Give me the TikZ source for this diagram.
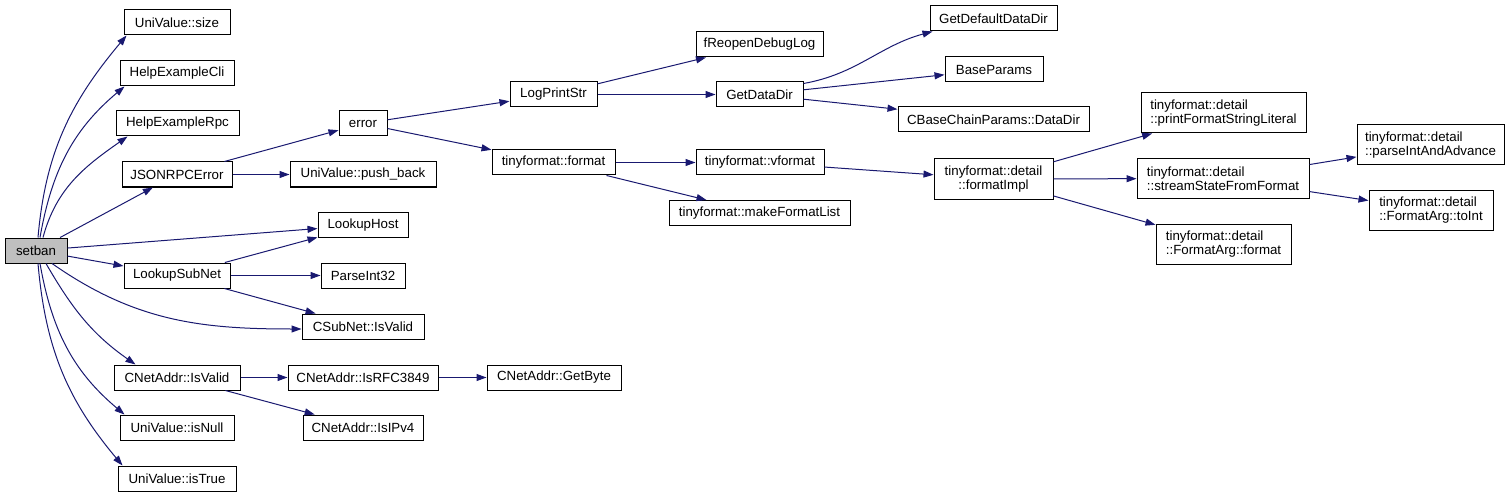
\documentclass[tikz,border=0pt]{standalone}
\usepackage{fontspec}
\setmainfont{Liberation Sans}
\usetikzlibrary{arrows.meta}

\definecolor{edgeblue}{HTML}{191970}
\definecolor{rootgray}{HTML}{BFBFBF}

\begin{document}
\begin{tikzpicture}[x=1pt, y=1pt,
  fn/.style={draw=black, line width=1pt, fill=white, inner sep=0pt, minimum height=25pt, font=\fontsize{13.3}{14.5}\selectfont},
  fntwo/.style={fn, minimum height=40pt, align=left},
  call/.style={draw=edgeblue, line width=1pt, -{Triangle[length=10pt, width=7pt]}}]

  \useasboundingbox (0,0) rectangle (1511,-497);

  \node[fn, fill=rootgray, minimum width=62pt] (setban) at (36,-250.5) {setban};

  \node[fn, minimum width=106pt] (size) at (177,-22.5) {UniValue::size};
  \node[fn, minimum width=114pt] (cli) at (177,-73.5) {HelpExampleCli};
  \node[fn, minimum width=123pt] (rpc) at (177.5,-123.5) {HelpExampleRpc};
  \node[fn, minimum width=110pt] (jsonerr) at (177,-174.5) {JSONRPCError};
  \node[fn, minimum width=106pt] (lookupsubnet) at (177,-275.5) {LookupSubNet};
  \node[fn, minimum width=126pt] (netvalid) at (177,-377.5) {CNetAddr::IsValid};
  \node[fn, minimum width=114pt] (isnull) at (177,-427.5) {UniValue::isNull};
  \node[fn, minimum width=118pt] (istrue) at (177,-478.5) {UniValue::isTrue};

  \node[fn, minimum width=48pt] (error) at (363,-123.5) {error};
  \node[fn, minimum width=146pt] (pushback) at (363,-174.5) {UniValue::push\_back};
  \node[fn, minimum width=90pt] (lookuphost) at (363,-225) {LookupHost};
  \node[fn, minimum width=84pt] (parseint) at (363,-275.5) {ParseInt32};
  \node[fn, minimum width=122pt] (subnetvalid) at (363,-326.5) {CSubNet::IsValid};
  \node[fn, minimum width=150pt] (rfc) at (363,-377.5) {CNetAddr::IsRFC3849};
  \node[fn, minimum width=120pt] (ipv4) at (363,-427.5) {CNetAddr::IsIPv4};

  \node[fn, minimum width=87pt] (logprint) at (553.5,-94.5) {LogPrintStr};
  \node[fn, minimum width=123pt] (tfformat) at (553.5,-162.5) {tinyformat::format};
  \node[fn, minimum width=134pt] (getbyte) at (554,-377.5) {CNetAddr::GetByte};

  \node[fn, minimum width=127pt] (reopen) at (759.5,-44.5) {fReopenDebugLog};
  \node[fn, minimum width=87pt] (datadir) at (759.5,-94.5) {GetDataDir};
  \node[fn, minimum width=128pt] (vformat) at (760,-162.5) {tinyformat::vformat};
  \node[fn, minimum width=181pt] (makelist) at (759.5,-213) {tinyformat::makeFormatList};

  \node[fn, minimum width=127pt] (defdir) at (993.5,-18.5) {GetDefaultDataDir};
  \node[fn, minimum width=98pt] (baseparams) at (994,-69.5) {BaseParams};
  \node[fn, minimum width=191pt] (chaindir) at (993.5,-119.5) {CBaseChainParams::DataDir};
  \node[fntwo, align=center, minimum width=119pt] (fmtimpl) at (993.5,-179) {tinyformat::detail\\::formatImpl};

  \node[fntwo, minimum width=165pt] (printlit) at (1223.5,-113) {tinyformat::detail\\::printFormatStringLiteral};
  \node[fntwo, minimum width=172pt] (streamstate) at (1223,-178.5) {tinyformat::detail\\::streamStateFromFormat};
  \node[fntwo, minimum width=135pt] (argformat) at (1223.5,-244) {tinyformat::detail\\::FormatArg::format};

  \node[fntwo, minimum width=147pt] (parseadv) at (1430.5,-145) {tinyformat::detail\\::parseIntAndAdvance};
  \node[fntwo, minimum width=124pt] (toint) at (1431,-210) {tinyformat::detail\\::FormatArg::toInt};

  \draw[call] ([xshift=2pt]setban.north) to[out=85, in=-130] ([xshift=3pt]size.south west);
  \draw[call] ([xshift=4pt]setban.north) to[out=80, in=-140] ([xshift=5pt]cli.south west);
  \draw[call] ([xshift=7pt]setban.north) to[out=75, in=-145] ([xshift=12pt]rpc.south west);
  \draw[call] (setban) -- (jsonerr);
  \draw[call] (setban) -- (lookuphost);
  \draw[call] (setban) -- (lookupsubnet);
  \draw[call] ([xshift=16pt]setban.south) to[out=-35, in=180] ([yshift=-2.5pt]subnetvalid.west);
  \draw[call] ([xshift=10pt]setban.south) to[out=-60, in=145] ([xshift=22pt]netvalid.north west);
  \draw[call] ([xshift=4pt]setban.south) to[out=-80, in=140] ([xshift=5pt]isnull.north west);
  \draw[call] ([xshift=2pt]setban.south) to[out=-85, in=130] ([xshift=5pt]istrue.north west);

  \draw[call] (jsonerr) -- (error);
  \draw[call] (jsonerr) -- (pushback);
  \draw[call] (lookupsubnet) -- (lookuphost);
  \draw[call] (lookupsubnet) -- (parseint);
  \draw[call] (lookupsubnet) -- (subnetvalid);
  \draw[call] (netvalid) -- (rfc);
  \draw[call] (netvalid) -- (ipv4);
  \draw[call] (rfc) -- (getbyte);

  \draw[call] (error) -- (logprint);
  \draw[call] (error) -- (tfformat);
  \draw[call] (logprint) -- (reopen);
  \draw[call] (logprint) -- (datadir);
  \draw[call] (tfformat) -- (vformat);
  \draw[call] (tfformat) -- (makelist);

  \draw[call] ([yshift=-2pt]datadir.north east) to[out=10, in=-165] ([xshift=3pt]defdir.south west);
  \draw[call] (datadir) -- (baseparams);
  \draw[call] (datadir) -- (chaindir);
  \draw[call] (vformat) -- (fmtimpl);

  \draw[call] (fmtimpl) -- (printlit);
  \draw[call] (fmtimpl) -- (streamstate);
  \draw[call] (fmtimpl) -- (argformat);
  \draw[call] (streamstate) -- (parseadv);
  \draw[call] (streamstate) -- (toint);

\end{tikzpicture}
\end{document}
